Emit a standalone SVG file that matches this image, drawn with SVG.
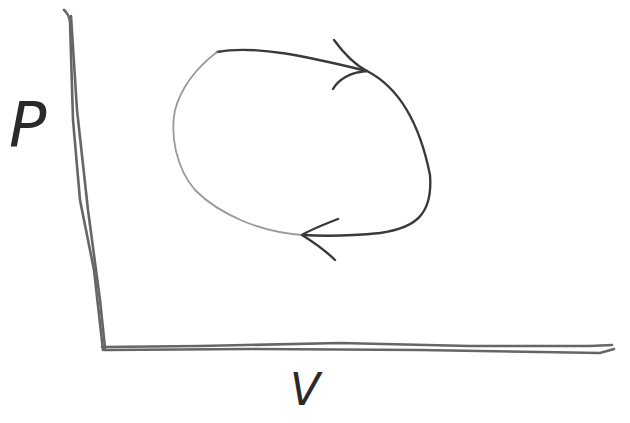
<svg xmlns="http://www.w3.org/2000/svg" width="630" height="423" viewBox="0 0 630 423">
<style>
.pen{fill:none;stroke:#3a3a3a;stroke-width:2.4;stroke-linecap:round;stroke-linejoin:round}
.light{stroke:#9a9a9a;stroke-width:1.8}
.axis{fill:none;stroke:#666;stroke-width:2.6;stroke-linecap:round}
.lbl{font-family:"DejaVu Sans","Liberation Sans",sans-serif;fill:#2a2a2a;font-style:oblique}
</style>
<rect width="630" height="423" fill="#fff"/>
<g id="axes">
<path class="axis" d="M64,10 Q69,14 70,22 L73,120 L80,200 L94,270 L103,350"/>
<path class="axis" d="M71,16 L77,110 L88,210 L100,300 L105,348" stroke-width="1.6"/>
<path class="axis" d="M102,347 L200,346 L340,343 L470,346 L590,346 L612,345"/>
<path class="axis" d="M104,350 L250,349 L420,350 L540,352 L600,353 L614,349" stroke-width="1.6"/>
</g>
<g id="cycle">
<path class="pen" d="M217,52 C260,44 320,60 367,71 C400,88 420,125 430,175 C433,215 415,228 380,233 C350,236 320,236 303,235"/>
<path class="pen light" d="M303,235 C260,232 220,215 195,190 C176,168 170,135 175,110 C182,85 200,65 217,52"/>
</g>
<g id="connectors">
<path class="pen" d="M334,40 C345,55 355,65 367,71 C350,72 338,80 333,89"/>
<path class="pen" d="M338,219 C325,224 310,230 302,235 C310,240 325,250 335,260"/>
</g>
<g id="label-P"><text class="lbl" x="9" y="146" font-size="62" font-weight="300">P</text></g>
<g id="label-V"><text class="lbl" x="290" y="405" font-size="44">V</text></g>
</svg>
